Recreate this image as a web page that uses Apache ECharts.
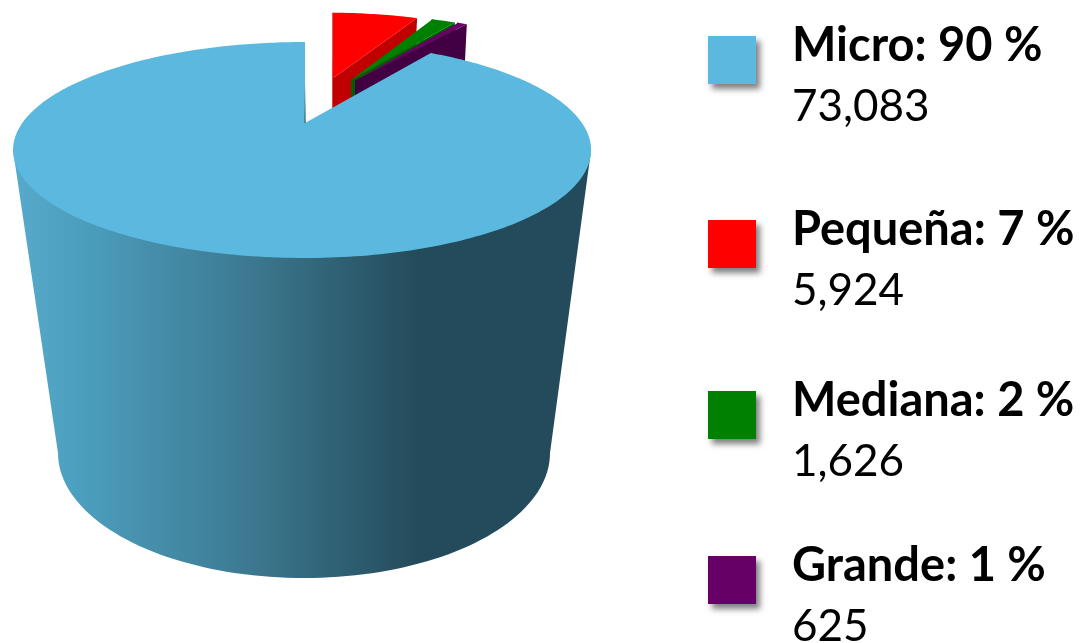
<!DOCTYPE html>
<html>
<head>
<meta charset="utf-8">
<style>html,body{margin:0;padding:0;background:#fff}#c{width:1082px;height:643px}</style>
<script src="https://cdn.jsdelivr.net/npm/echarts@6/dist/echarts.min.js"></script>
</head>
<body>
<div id="c"></div>
<script>
var names = ['Micro', 'Pequeña', 'Mediana', 'Grande'];
var values = [73083, 5924, 1626, 625];
var percents = [90, 7, 2, 1];
var valueLabels = ['73,083', '5,924', '1,626', '625'];
var colors = ['#5BB9E0', '#FF0000', '#008000', '#660066'];
var wallColors = ['#3f7f98', '#C00000', '#006000', '#420042'];
var explodeX = [0, 0.1135, 0.186, 0.2017];
var explodeY = [0, -0.4975, -0.475, -0.47];
var legendTops = [22, 206, 377, 542];

var total = values.reduce(function (a, b) { return a + b; }, 0);
var notchEdge = 90;          // back edge of Micro's notch
var sliceStart = 88.5;       // the small slices start here, clockwise
var gapSquash = 0.92;        // the source draws the notch a little narrower than its share
var persp = -0.25, cy = 123, yk = 70.5, cx = 305, kL = 282.7, kR = 277;
var base = { cx: 304, cy: 453, rx: 246, ry: 125 };

function proj(X, Y) {
  var w = 1 + persp * Y;
  return [cx + (X < 0 ? kL : kR) * X / w, (yk * Y + cy) / w];
}
function rim(a, ox, oy) {
  var r = a * Math.PI / 180;
  return proj(ox + Math.cos(r), oy - Math.sin(r));
}
function arc(a0, a1, ox, oy) {
  var pts = [], n = Math.max(2, Math.ceil(Math.abs(a1 - a0)));
  for (var i = 0; i <= n; i++) pts.push(rim(a0 + (a1 - a0) * i / n, ox, oy));
  return pts;
}
// clockwise angular range of a small slice
function range(idx) {
  var a = sliceStart;
  for (var i = 1; i < idx; i++) a -= values[i] / total * 360 * gapSquash;
  return [a, a - values[idx] / total * 360 * gapSquash];
}
function sideGradient() {
  return new echarts.graphic.LinearGradient(13, 0, 591, 0, [
    { offset: 0, color: '#57AACB' },
    { offset: 0.12, color: '#4C9EBE' },
    { offset: 0.40, color: '#3D7A92' },
    { offset: 0.70, color: '#244B5B' },
    { offset: 1, color: '#244B5B' }
  ], true);
}
function renderMicro(params, api) {
  var sweep = api.value(0) / total * 360;
  var aStart = notchEdge;
  var aEnd = aStart + 360 - (360 - sweep) * gapSquash; // rim runs counter-clockwise to here
  var apex = proj(0, 0);
  var top = arc(aStart, aEnd, 0, 0);
  top.push(apex);
  var side = [];
  for (var d = 180; d <= 360; d += 2) {
    var r = d * Math.PI / 180;
    side.push([base.cx + base.rx * Math.cos(r), base.cy - base.ry * Math.sin(r)]);
  }
  var yExt = Math.asin(0.25) * 180 / Math.PI;
  side.push(rim(-yExt, 0, 0));
  side.push(rim(180 + yExt, 0, 0));
  var back = rim(aStart, 0, 0);
  return {
    type: 'group',
    children: [
      { type: 'polygon', shape: { points: side }, style: { fill: sideGradient() } },
      { type: 'polygon', shape: { points: top }, style: { fill: colors[0] } },
      { type: 'line', shape: { x1: back[0], y1: (back[1] + apex[1]) / 2, x2: apex[0], y2: apex[1] },
        style: { lineWidth: 2, stroke: new echarts.graphic.LinearGradient(0, 0, 0, 1, [
          { offset: 0, color: 'rgba(63,127,152,0)' }, { offset: 1, color: 'rgba(63,127,152,0.9)' }]) } }
    ]
  };
}
function renderSlice(params, api) {
  var idx = params.seriesIndex;
  var rg = range(idx);
  var ox = explodeX[idx], oy = explodeY[idx];
  var apex = proj(ox, oy);
  var end = rim(rg[1], ox, oy), start = rim(rg[0], ox, oy);
  var h = 100;
  var wall = [apex, end, [end[0] - h * 0.05, end[1] + h], [apex[0], apex[1] + h]];
  var face = arc(rg[0], rg[1], ox, oy);
  face.push(apex);
  return {
    type: 'group',
    children: [
      { type: 'line', shape: { x1: start[0], y1: start[1], x2: apex[0], y2: apex[1] + h },
        style: { lineWidth: 1.5, stroke: wallColors[idx] } },
      { type: 'polygon', shape: { points: wall }, style: { fill: wallColors[idx] } },
      { type: 'polygon', shape: { points: face }, style: { fill: colors[idx] } }
    ]
  };
}
var series = names.map(function (n, i) {
  return {
    name: n, type: 'custom', coordinateSystem: 'none', silent: true,
    z: i === 0 ? 6 : i + 1,
    itemStyle: { color: colors[i] },
    data: [[values[i]]],
    renderItem: i === 0 ? renderMicro : renderSlice
  };
});
var rich = {
  b: { fontFamily: 'Lato', fontSize: 47, fontWeight: 'bold', color: '#000', lineHeight: 61 },
  v: { fontFamily: 'Lato', fontSize: 44, fontWeight: 'normal', color: '#000', lineHeight: 61 }
};
var legends = names.map(function (n, i) {
  return {
    data: [n], left: 708, top: legendTops[i], padding: 0, orient: 'vertical',
    itemWidth: 48, itemHeight: 48, icon: 'rect', selectedMode: false,
    itemStyle: { shadowBlur: 6, shadowOffsetX: 4, shadowOffsetY: 5, shadowColor: 'rgba(0,0,0,0.5)' },
    textStyle: { padding: [32, 0, 0, 31], rich: rich },
    formatter: function () {
      return '{b|' + names[i] + ': ' + percents[i] + ' %}\n{v|' + valueLabels[i] + '}';
    }
  };
});
var chart = echarts.init(document.getElementById('c'), null, { renderer: 'canvas' });
chart.setOption({ animation: false, backgroundColor: '#fff', legend: legends, series: series });
</script>
</body>
</html>
